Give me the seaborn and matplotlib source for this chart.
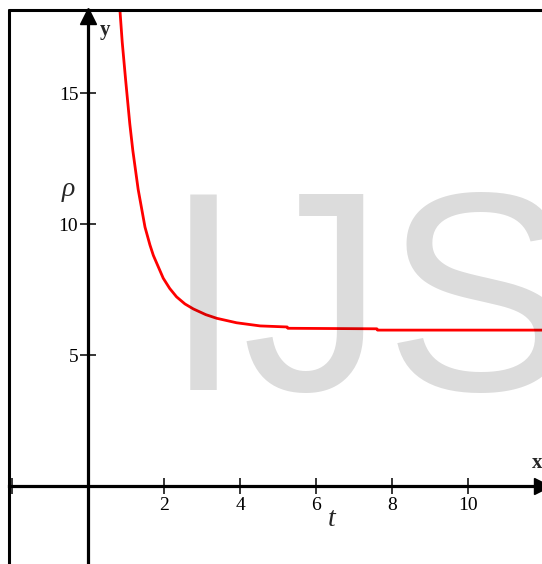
import matplotlib
matplotlib.use("Agg")
import matplotlib.pyplot as plt
import matplotlib.transforms as mtransforms
import seaborn as sns
import pandas as pd

# curve (t, rho)
t_vals = [0.80, 0.84, 0.90, 0.99, 1.10, 1.18, 1.32, 1.50, 1.63, 1.72, 1.98, 2.15,
          2.33, 2.55, 2.77, 3.10, 3.39, 3.91, 4.53, 5.24, 5.26, 7.60, 7.62, 12.2]
rho_vals = [19.0, 18.17, 16.95, 15.5, 13.82, 12.8, 11.32, 9.88, 9.2, 8.8, 7.93, 7.54,
            7.22, 6.95, 6.76, 6.54, 6.40, 6.23, 6.11, 6.07, 6.02, 6.0, 5.95, 5.95]

x_ticks = [-2, 2, 4, 6, 8, 10]
x_labels = ["", "2", "4", "6", "8", "10"]
y_ticks = [5, 10, 15]
y_labels = ["5", "10", "15"]

df = pd.DataFrame({"t": t_vals, "rho": rho_vals})

sns.set_style("white")
plt.rcParams["font.family"] = ["Liberation Serif", "DejaVu Serif"]

fig = plt.figure(figsize=(5.42, 5.64), dpi=100)
ax = fig.add_axes([9 / 542, 0.0, 533 / 542, 1 - 10 / 564])

sns.lineplot(data=df, x="t", y="rho", sort=False, estimator=None,
             color="red", linewidth=2, ax=ax)

ax.set_xlim(-2.079, 11.947)
ax.set_ylim(-2.977, 18.168)

# axes through the origin
for s in ["left", "bottom"]:
    ax.spines[s].set_position(("data", 0))
    ax.spines[s].set_linewidth(2.3)
    ax.spines[s].set_color("black")
    ax.spines[s].set_zorder(3)
for s in ["right", "top"]:
    ax.spines[s].set_visible(False)

ax.set_xticks(x_ticks)
ax.set_xticklabels(x_labels)
ax.set_yticks(y_ticks)
ax.set_yticklabels(y_labels)
ax.tick_params(axis="both", bottom=True, left=True, direction="inout", length=12,
               width=1.1, labelsize=14, colors="black", pad=1)
ax.tick_params(axis="x", pad=2)
ax.set_xlabel("")
ax.set_ylabel("")

# arrows
ax.plot(1, 0, marker=">", markersize=11, color="black",
        transform=ax.get_yaxis_transform(), clip_on=False, zorder=4)
down = mtransforms.ScaledTranslation(0, -6 / 100, fig.dpi_scale_trans)
ax.plot(0, 1, marker="^", markersize=12, color="black",
        transform=ax.get_xaxis_transform() + down, clip_on=False, zorder=4)

# frame: top and left
ax.plot([0, 1], [1, 1], color="black", lw=2.2, transform=ax.transAxes, clip_on=False)
ax.plot([0, 0], [0, 1], color="black", lw=2.2, transform=ax.transAxes, clip_on=False)

fig.text(105 / 542, 1 - 30 / 564, "y", fontsize=15, fontweight="bold", ha="center", va="center")
fig.text(537 / 542, 1 - 463 / 564, "x", fontsize=15, fontweight="bold", ha="center", va="center")
fig.text(68 / 542, 1 - 190 / 564, "ρ", fontsize=20, style="italic", ha="center", va="center")
fig.text(332 / 542, 1 - 520 / 564, "t", fontsize=20, style="italic", ha="center", va="center")

# watermark
fig.text(164 / 542, 1 - 390 / 564, "IJS", fontsize=205, family="Liberation Sans",
         color="black", alpha=0.137, ha="left", va="baseline", zorder=10)

fig.savefig("out.png", dpi=100)
